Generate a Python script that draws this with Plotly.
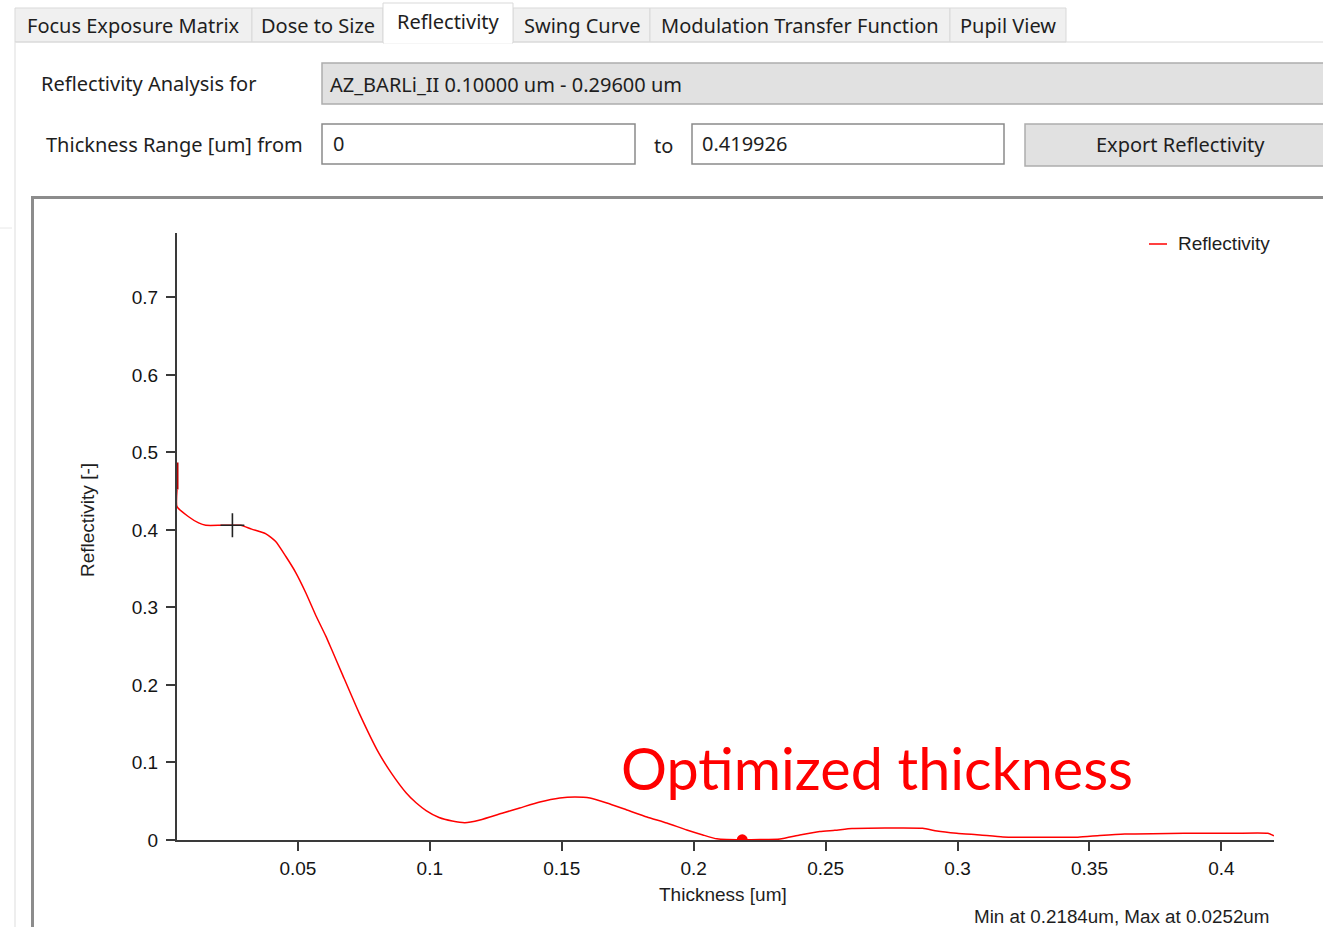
import plotly.graph_objects as go

# ---------------- data ----------------
thickness_um = [0.0042, 0.0042, 0.0086, 0.0124, 0.0151, 0.0211, 0.0252, 0.0284, 0.0325, 0.0379,
                0.0416, 0.0454, 0.0492, 0.0530, 0.0569, 0.0606, 0.0629, 0.0667, 0.0732, 0.0807,
                0.0857, 0.0910, 0.0948, 0.0986, 0.1035, 0.1085, 0.1133, 0.1190, 0.1277, 0.1341,
                0.1417, 0.1493, 0.1550, 0.1607, 0.1671, 0.1747, 0.1823, 0.1898, 0.1974, 0.2035,
                0.2088, 0.2126, 0.2184, 0.2251, 0.2327, 0.2402, 0.2478, 0.2535, 0.2600, 0.2725,
                0.2868, 0.2922, 0.2997, 0.3085, 0.3172, 0.3312, 0.3456, 0.3539, 0.3634, 0.3800,
                0.3918, 0.4050, 0.4176, 0.4199]
reflectivity = [0.452, 0.430, 0.417, 0.409, 0.406, 0.406, 0.406, 0.406, 0.401, 0.395,
                0.385, 0.366, 0.345, 0.319, 0.289, 0.263, 0.245, 0.215, 0.164, 0.112,
                0.085, 0.061, 0.048, 0.038, 0.029, 0.0245, 0.0223, 0.0258, 0.0348, 0.0413,
                0.0490, 0.0542, 0.0555, 0.0542, 0.0477, 0.0387, 0.0297, 0.0219, 0.0129, 0.0065,
                0.0015, 0.0005, 0.0003, 0.0005, 0.0013, 0.0065, 0.0110, 0.0125, 0.0148, 0.0155,
                0.0152, 0.0115, 0.0086, 0.0065, 0.0040, 0.0035, 0.0037, 0.0058, 0.0077, 0.0085,
                0.0087, 0.0087, 0.0086, 0.0055]

start_segment_x = [0.0042, 0.0042]
start_segment_y = [0.487, 0.452]
max_marker_x = [0.0252]
max_marker_y = [0.406]
min_marker_x = [0.2184]
min_marker_y = [0.0003]

x_range = [0.0042, 0.419926]
y_range = [0, 0.783]
x_tick_vals = [0.05, 0.1, 0.15, 0.2, 0.25, 0.3, 0.35, 0.4]
x_tick_text = ["0.05", "0.1", "0.15", "0.2", "0.25", "0.3", "0.35", "0.4"]
y_tick_vals = [0, 0.1, 0.2, 0.3, 0.4, 0.5, 0.6, 0.7]
y_tick_text = ["0", "0.1", "0.2", "0.3", "0.4", "0.5", "0.6", "0.7"]

tab_labels = ["Focus Exposure Matrix", "Dose to Size", "Reflectivity", "Swing Curve",
              "Modulation Transfer Function", "Pupil View"]
selected_tab = "Reflectivity"

# ---------------- layout helpers (pixel -> paper) ----------------
W, H = 1323, 927
def fx(px):
    return px / W
def fy(py):
    return 1 - py / H

UI_FONT = "Noto Sans"
UI_SIZE = 20
CHART_FONT = "Liberation Sans, Arial"
TXT = "#1e1e1e"
TICK_TXT = "#141414"

fig = go.Figure()

fig.add_trace(go.Scatter(x=thickness_um, y=reflectivity, mode="lines", name="Reflectivity",
                         line=dict(color="#ff0000", width=1.5, shape="spline", smoothing=0.5),
                         showlegend=False))
fig.add_trace(go.Scatter(x=start_segment_x, y=start_segment_y, mode="lines",
                         line=dict(color="#b40000", width=3), showlegend=False))
fig.add_trace(go.Scatter(x=max_marker_x, y=max_marker_y, mode="markers",
                         marker=dict(symbol="cross-thin", size=17, line=dict(color="#222222", width=1.6)),
                         showlegend=False))
fig.add_trace(go.Scatter(x=min_marker_x, y=min_marker_y, mode="markers",
                         marker=dict(symbol="circle", size=11, color="#ff0000"), showlegend=False))

shapes = []
ann = []

# tabs
tab_edges = [15, 252, 383, 513, 650, 950, 1066]
for i, lab in enumerate(tab_labels):
    x0, x1 = tab_edges[i], tab_edges[i + 1]
    if lab == selected_tab:
        continue
    shapes.append(dict(type="rect", xref="paper", yref="paper", x0=fx(x0), x1=fx(x1), y0=fy(42), y1=fy(8),
                       fillcolor="#f0f0f0", line=dict(color="#d9d9d9", width=1), layer="below"))
    ann.append(dict(x=fx((x0 + x1) / 2), y=fy(25), text=lab, showarrow=False, xanchor="center", yanchor="middle",
                    font=dict(family=UI_FONT, size=UI_SIZE, color=TXT)))
# panel border lines
shapes.append(dict(type="line", xref="paper", yref="paper", x0=fx(15), x1=fx(1323), y0=fy(42), y1=fy(42),
                   line=dict(color="#d9d9d9", width=1.2)))
shapes.append(dict(type="line", xref="paper", yref="paper", x0=fx(15), x1=fx(15), y0=fy(42), y1=fy(927),
                   line=dict(color="#e3e3e3", width=1.2)))
shapes.append(dict(type="line", xref="paper", yref="paper", x0=fx(0), x1=fx(12), y0=fy(228), y1=fy(228),
                   line=dict(color="#e8e8e8", width=1)))
# selected tab
si = tab_labels.index(selected_tab)
sx0, sx1 = tab_edges[si], tab_edges[si + 1]
shapes.append(dict(type="rect", xref="paper", yref="paper", x0=fx(sx0), x1=fx(sx1), y0=fy(43), y1=fy(3),
                   fillcolor="#ffffff", line=dict(color="#d9d9d9", width=1)))
shapes.append(dict(type="line", xref="paper", yref="paper", x0=fx(sx0 + 1), x1=fx(sx1 - 1), y0=fy(42.5), y1=fy(42.5),
                   line=dict(color="#ffffff", width=2)))
ann.append(dict(x=fx((sx0 + sx1) / 2), y=fy(22), text=selected_tab, showarrow=False, xanchor="center",
                yanchor="middle", font=dict(family=UI_FONT, size=UI_SIZE, color=TXT)))

# form controls
ann.append(dict(x=fx(39), y=fy(83), text="Reflectivity Analysis for", showarrow=False, xanchor="left",
                yanchor="middle", font=dict(family=UI_FONT, size=UI_SIZE, color=TXT)))
shapes.append(dict(type="rect", xref="paper", yref="paper", x0=fx(322), x1=fx(1330), y0=fy(104), y1=fy(63),
                   fillcolor="#e1e1e1", line=dict(color="#adadad", width=1.5)))
ann.append(dict(x=fx(328), y=fy(84), text="AZ_BARLi_II 0.10000 um - 0.29600 um", showarrow=False,
                xanchor="left", yanchor="middle", font=dict(family=UI_FONT, size=UI_SIZE, color=TXT)))
ann.append(dict(x=fx(44), y=fy(145), text="Thickness Range [um] from", showarrow=False, xanchor="left",
                yanchor="middle", font=dict(family=UI_FONT, size=UI_SIZE, color=TXT)))
shapes.append(dict(type="rect", xref="paper", yref="paper", x0=fx(322), x1=fx(635), y0=fy(164), y1=fy(124),
                   fillcolor="#ffffff", line=dict(color="#8a8a8a", width=1.5)))
ann.append(dict(x=fx(331), y=fy(143), text="0", showarrow=False, xanchor="left", yanchor="middle",
                font=dict(family=UI_FONT, size=UI_SIZE, color=TXT)))
ann.append(dict(x=fx(663), y=fy(146), text="to", showarrow=False, xanchor="center", yanchor="middle",
                font=dict(family=UI_FONT, size=UI_SIZE, color=TXT)))
shapes.append(dict(type="rect", xref="paper", yref="paper", x0=fx(692), x1=fx(1004), y0=fy(164), y1=fy(124),
                   fillcolor="#ffffff", line=dict(color="#8a8a8a", width=1.5)))
ann.append(dict(x=fx(700), y=fy(143), text="0.419926", showarrow=False, xanchor="left", yanchor="middle",
                font=dict(family=UI_FONT, size=UI_SIZE, color=TXT)))
shapes.append(dict(type="rect", xref="paper", yref="paper", x0=fx(1025), x1=fx(1330), y0=fy(166), y1=fy(124),
                   fillcolor="#e1e1e1", line=dict(color="#adadad", width=1.5)))
ann.append(dict(x=fx(1180), y=fy(145), text="Export Reflectivity", showarrow=False, xanchor="center",
                yanchor="middle", font=dict(family=UI_FONT, size=UI_SIZE, color=TXT)))

# chart frame
shapes.append(dict(type="rect", xref="paper", yref="paper", x0=fx(32.5), x1=fx(1340), y0=fy(940), y1=fy(197.5),
                   line=dict(color="#8c8c8c", width=3), layer="below"))

# legend (drawn)
shapes.append(dict(type="line", xref="paper", yref="paper", x0=fx(1149), x1=fx(1167), y0=fy(244), y1=fy(244),
                   line=dict(color="#ff0000", width=1.5)))
ann.append(dict(x=fx(1176), y=fy(243), text="Reflectivity", showarrow=False, xanchor="left", yanchor="middle",
                font=dict(family=CHART_FONT, size=19, color=TXT)))

# axis titles / info
ann.append(dict(x=fx(723), y=fy(894), text="Thickness [um]", showarrow=False, xanchor="center",
                yanchor="middle", font=dict(family=CHART_FONT, size=19, color=TXT)))
ann.append(dict(x=fx(87), y=fy(520), text="Reflectivity [-]", showarrow=False, xanchor="center",
                yanchor="middle", textangle=-90, font=dict(family=CHART_FONT, size=19, color=TXT)))
ann.append(dict(x=fx(1271), y=fy(916), text="Min at 0.2184um, Max at 0.0252um", showarrow=False,
                xanchor="right", yanchor="middle", font=dict(family=CHART_FONT, size=18.8, color=TXT)))

# callout
ann.append(dict(x=fx(619), y=fy(767), text="Optimized thickness", showarrow=False, xanchor="left",
                yanchor="middle", font=dict(family="Lato", size=57.5, color="#ff0000")))

for a in ann:
    a.setdefault("xref", "paper")
    a.setdefault("yref", "paper")

fig.update_layout(
    width=W, height=H, autosize=False,
    margin=dict(l=0, r=0, t=0, b=0, pad=0),
    paper_bgcolor="#ffffff", plot_bgcolor="#ffffff",
    showlegend=False,
    shapes=shapes, annotations=ann,
    xaxis=dict(domain=[fx(177), fx(1274)], range=x_range, tickvals=x_tick_vals, ticktext=x_tick_text,
               showgrid=False, zeroline=False, showline=True, linecolor="#3a3a3a", linewidth=2,
               ticks="outside", ticklen=9, tickwidth=2, tickcolor="#3a3a3a", ticklabelstandoff=1,
               automargin=False,
               tickfont=dict(family=CHART_FONT, size=19, color=TICK_TXT), fixedrange=True),
    yaxis=dict(domain=[fy(840), fy(233)], range=y_range, tickvals=y_tick_vals, ticktext=y_tick_text,
               showgrid=False, zeroline=False, showline=True, linecolor="#3a3a3a", linewidth=2,
               ticks="outside", ticklen=9, tickwidth=2, tickcolor="#3a3a3a", ticklabelstandoff=4,
               automargin=False,
               tickfont=dict(family=CHART_FONT, size=19, color=TICK_TXT), fixedrange=True),
)

fig.write_html("out.html", config={"displayModeBar": False})
